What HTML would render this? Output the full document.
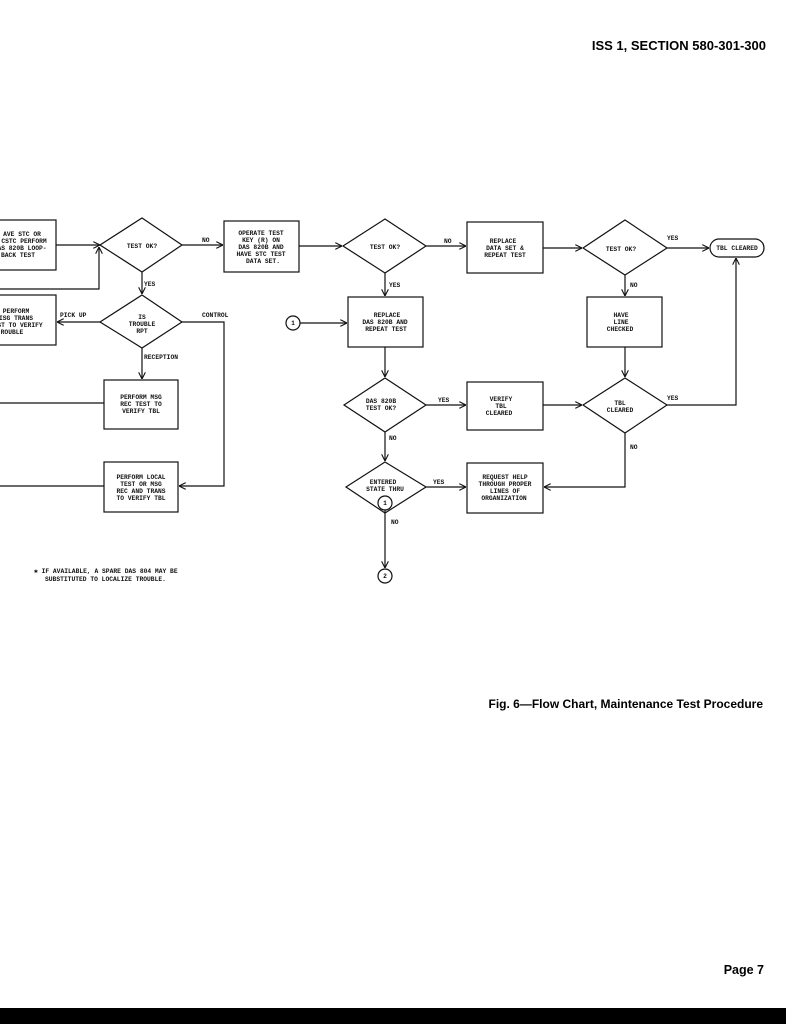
<!DOCTYPE html>
<html><head><meta charset="utf-8"><style>
html,body{margin:0;padding:0;background:#fff;width:786px;height:1024px;overflow:hidden}
svg{display:block}
.t{font-family:"Liberation Mono",monospace;font-size:6.3px;fill:#111;text-anchor:middle;font-weight:bold}
.l{font-family:"Liberation Mono",monospace;font-size:6.3px;fill:#111;font-weight:bold}
.h{font-family:"Liberation Sans",sans-serif;font-weight:bold;fill:#000}
</style></head><body>
<svg width="786" height="1024" viewBox="0 0 786 1024" xmlns="http://www.w3.org/2000/svg">
<defs><marker id="a" viewBox="0 0 10 10" refX="10" refY="5" markerWidth="6" markerHeight="6" orient="auto"><path d="M0,0L10,5L0,10" fill="none" stroke="#111" stroke-width="1.5"/></marker></defs>
<text class="h" x="766" y="50" font-size="13" text-anchor="end">ISS 1, SECTION 580-301-300</text>
<g fill="none" stroke="#111" stroke-width="1.2">
<rect x="-2" y="220" width="58" height="50"/>
<rect x="-2" y="295" width="58" height="50"/>
<rect x="104" y="380" width="74" height="49"/>
<rect x="104" y="462" width="74" height="50"/>
<polygon points="142,218 182,245 142,272 100,245"/>
<polygon points="142,295 182,322 142,348 100,322"/>
<rect x="224" y="221" width="75" height="51"/>
<line x1="56" y1="245" x2="100" y2="245" marker-end="url(#a)"/>
<polyline points="0,289 99,289 99,247" marker-end="url(#a)"/>
<line x1="182" y1="245" x2="223" y2="245" marker-end="url(#a)"/>
<line x1="142" y1="272" x2="142" y2="294" marker-end="url(#a)"/>
<line x1="100" y1="322" x2="57" y2="322" marker-end="url(#a)"/>
<line x1="142" y1="348" x2="142" y2="379" marker-end="url(#a)"/>
<polyline points="182,322 224,322 224,486 179,486" marker-end="url(#a)"/>
<line x1="0" y1="403" x2="104" y2="403"/>
<line x1="0" y1="486" x2="104" y2="486"/>
<line x1="299" y1="246" x2="342" y2="246" marker-end="url(#a)"/>
<polygon points="385,219 426,246 385,273 343,246"/>
<line x1="426" y1="246" x2="466" y2="246" marker-end="url(#a)"/>
<rect x="467" y="222" width="76" height="51"/>
<line x1="543" y1="248" x2="582" y2="248" marker-end="url(#a)"/>
<polygon points="625,220 667,248 625,275 583,248"/>
<line x1="667" y1="248" x2="709" y2="248" marker-end="url(#a)"/>
<rect x="710" y="239" width="54" height="18" rx="9"/>
<line x1="385" y1="273" x2="385" y2="296" marker-end="url(#a)"/>
<rect x="348" y="297" width="75" height="50"/>
<circle cx="293" cy="323" r="7"/>
<line x1="300" y1="323" x2="347" y2="323" marker-end="url(#a)"/>
<line x1="385" y1="347" x2="385" y2="377" marker-end="url(#a)"/>
<polygon points="385,378 426,405 385,432 344,405"/>
<line x1="426" y1="405" x2="466" y2="405" marker-end="url(#a)"/>
<rect x="467" y="382" width="76" height="48"/>
<line x1="543" y1="405" x2="582" y2="405" marker-end="url(#a)"/>
<polygon points="625,378 667,405 625,433 583,405"/>
<polyline points="667,405 736,405 736,258" marker-end="url(#a)"/>
<line x1="625" y1="275" x2="625" y2="296" marker-end="url(#a)"/>
<rect x="587" y="297" width="75" height="50"/>
<line x1="625" y1="347" x2="625" y2="377" marker-end="url(#a)"/>
<polyline points="625,433 625,487 544,487" marker-end="url(#a)"/>
<rect x="467" y="463" width="76" height="50"/>
<line x1="385" y1="432" x2="385" y2="461" marker-end="url(#a)"/>
<polygon points="385,462 426,487 385,513 346,487"/>
<line x1="426" y1="487" x2="466" y2="487" marker-end="url(#a)"/>
<circle cx="385" cy="503" r="7"/>
<line x1="385" y1="510" x2="385" y2="568" marker-end="url(#a)"/>
<circle cx="385" cy="576" r="7"/>
</g>
<text class="t" x="22" y="236">AVE STC OR</text>
<text class="t" x="24" y="243">CSTC PERFORM</text>
<text class="t" x="22" y="250">AS 820B LOOP-</text>
<text class="t" x="18" y="257">BACK TEST</text>
<text class="t" x="142" y="248">TEST OK?</text>
<text class="l" x="202" y="242">NO</text>
<text class="t" x="261" y="235">OPERATE TEST</text>
<text class="t" x="261" y="242">KEY (R) ON</text>
<text class="t" x="261" y="249">DAS 820B AND</text>
<text class="t" x="261" y="256">HAVE STC TEST</text>
<text class="t" x="263" y="263">DATA SET.</text>
<text class="l" x="144" y="286">YES</text>
<text class="t" x="16" y="313">PERFORM</text>
<text class="t" x="16" y="320">ISG TRANS</text>
<text class="t" x="20" y="327">ST TO VERIFY</text>
<text class="t" x="12" y="334">ROUBLE</text>
<text class="l" x="60" y="317">PICK UP</text>
<text class="t" x="142" y="319">IS</text>
<text class="t" x="142" y="326">TROUBLE</text>
<text class="t" x="142" y="333">RPT</text>
<text class="l" x="202" y="317">CONTROL</text>
<text class="l" x="144" y="359">RECEPTION</text>
<text class="t" x="141" y="399">PERFORM MSG</text>
<text class="t" x="141" y="406">REC TEST TO</text>
<text class="t" x="141" y="413">VERIFY TBL</text>
<text class="t" x="141" y="479">PERFORM LOCAL</text>
<text class="t" x="141" y="486">TEST OR MSG</text>
<text class="t" x="141" y="493">REC AND TRANS</text>
<text class="t" x="141" y="500">TO VERIFY TBL</text>
<text class="t" x="385" y="249">TEST OK?</text>
<text class="l" x="444" y="243">NO</text>
<text class="t" x="503" y="243">REPLACE</text>
<text class="t" x="505" y="250">DATA SET &amp;</text>
<text class="t" x="505" y="257">REPEAT TEST</text>
<text class="t" x="621" y="251">TEST OK?</text>
<text class="l" x="667" y="240">YES</text>
<text class="t" x="737" y="250">TBL  CLEARED</text>
<text class="l" x="389" y="287">YES</text>
<text class="l" x="630" y="287">NO</text>
<text class="t" x="387" y="317">REPLACE</text>
<text class="t" x="385" y="324">DAS 820B AND</text>
<text class="t" x="386" y="331">REPEAT TEST</text>
<text class="t" x="621" y="317">HAVE</text>
<text class="t" x="621" y="324">LINE</text>
<text class="t" x="620" y="331">CHECKED</text>
<text class="t" x="381" y="403">DAS 820B</text>
<text class="t" x="381" y="410">TEST OK?</text>
<text class="l" x="438" y="402">YES</text>
<text class="t" x="501" y="401">VERIFY</text>
<text class="t" x="501" y="408">TBL</text>
<text class="t" x="499" y="415">CLEARED</text>
<text class="t" x="620" y="405">TBL</text>
<text class="t" x="620" y="412">CLEARED</text>
<text class="l" x="667" y="400">YES</text>
<text class="l" x="389" y="440">NO</text>
<text class="l" x="630" y="449">NO</text>
<text class="t" x="383" y="484">ENTERED</text>
<text class="t" x="385" y="491">STATE THRU</text>
<text class="l" x="433" y="484">YES</text>
<text class="t" x="505" y="479">REQUEST HELP</text>
<text class="t" x="505" y="486">THROUGH PROPER</text>
<text class="t" x="505" y="493">LINES OF</text>
<text class="t" x="504" y="500">ORGANIZATION</text>
<text class="t" x="385" y="505">1</text>
<text class="l" x="391" y="524">NO</text>
<text class="t" x="385" y="578">2</text>
<text class="t" x="293" y="325">1</text>
<text class="l" x="34" y="573" font-size="5.5">✱ IF AVAILABLE, A SPARE DAS 804 MAY BE</text>
<text class="l" x="45" y="581" font-size="5.5">SUBSTITUTED TO LOCALIZE TROUBLE.</text>
<text class="h" x="763" y="708" font-size="12" text-anchor="end">Fig. 6—Flow Chart, Maintenance Test Procedure</text>
<text class="h" x="764" y="974" font-size="12.5" text-anchor="end">Page 7</text>
<rect x="0" y="1008" width="786" height="16" fill="#000"/>
</svg>
</body></html>
